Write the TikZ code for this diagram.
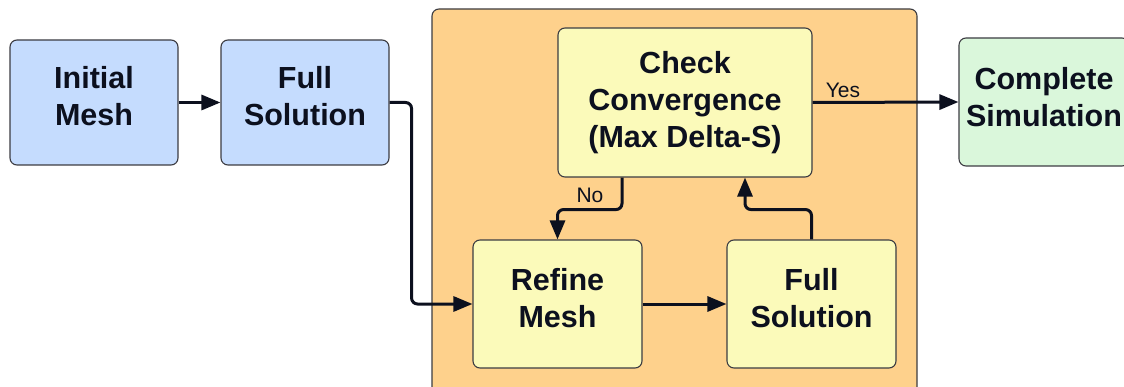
\documentclass[tikz,border=0pt]{standalone}
\usepackage{fontspec}
\setmainfont{Liberation Sans}
\usetikzlibrary{arrows.meta,calc}
\definecolor{bluef}{RGB}{197,220,254}
\definecolor{yellowf}{RGB}{251,250,186}
\definecolor{orangef}{RGB}{254,209,140}
\definecolor{greenf}{RGB}{218,247,219}
\definecolor{edgec}{RGB}{60,60,66}
\definecolor{ink}{RGB}{12,16,30}
\tikzset{
  box/.style={draw=edgec, line width=1.1pt, rounded corners=7pt, align=center,
    font=\fontsize{30.5}{37}\selectfont\bfseries, text=ink, inner sep=0pt},
  conn/.style={draw=ink, line width=3pt, rounded corners=6pt,
    -{Triangle[length=19pt,width=15pt]}},
  lbl/.style={font=\fontsize{21}{24}\selectfont, text=ink, inner sep=2pt}
}
\begin{document}
\begin{tikzpicture}[x=1pt,y=1pt]
\clip (0,0) rectangle (1124,-387);
% container
\draw[draw=edgec, line width=1.1pt, fill=orangef, rounded corners=7pt] (432,-9) rectangle (917,-420);
% boxes
\node[box, fill=bluef, minimum width=168pt, minimum height=125pt] (init) at (94,-102.5) {Initial\\Mesh\\[-24pt]\mbox{}};
\node[box, fill=bluef, minimum width=168pt, minimum height=125pt] (full1) at (305,-102.5) {Full\\Solution\\[-24pt]\mbox{}};
\node[box, fill=yellowf, minimum width=254pt, minimum height=149pt] (check) at (685,-102.5) {Check\\Convergence\\(Max Delta-S)\\[-30pt]\mbox{}};
\node[box, fill=yellowf, minimum width=169pt, minimum height=128pt] (refine) at (557.5,-304) {Refine\\Mesh\\[-25pt]\mbox{}};
\node[box, fill=yellowf, minimum width=169pt, minimum height=128pt] (full2) at (811.5,-304) {Full\\Solution\\[-25pt]\mbox{}};
\node[box, fill=greenf, minimum width=170pt, minimum height=128pt] (done) at (1044,-102) {Complete\\Simulation\\[-26pt]\mbox{}};
% connectors
\coordinate (c1) at ([xshift=-63pt]check.south);
\coordinate (c2) at ([xshift=60pt]check.south);
\draw[conn] (init.east) -- (full1.west);
\draw[conn] (full1.east) -- ++(22,0) |- (refine.west);
\draw[conn] (refine.east) -- (full2.west);
\draw[conn] (full2.north) |- ([yshift=-32pt]c2) -- (c2);
\draw[conn] (c1) -- ([yshift=-32pt]c1) -| (refine.north);
\node[lbl] (nolbl) at (590,-195) {No};
\draw[conn] (check.east) -- (done.west);
\node[lbl] (yeslbl) at (843,-90) {Yes};
\end{tikzpicture}
\end{document}
